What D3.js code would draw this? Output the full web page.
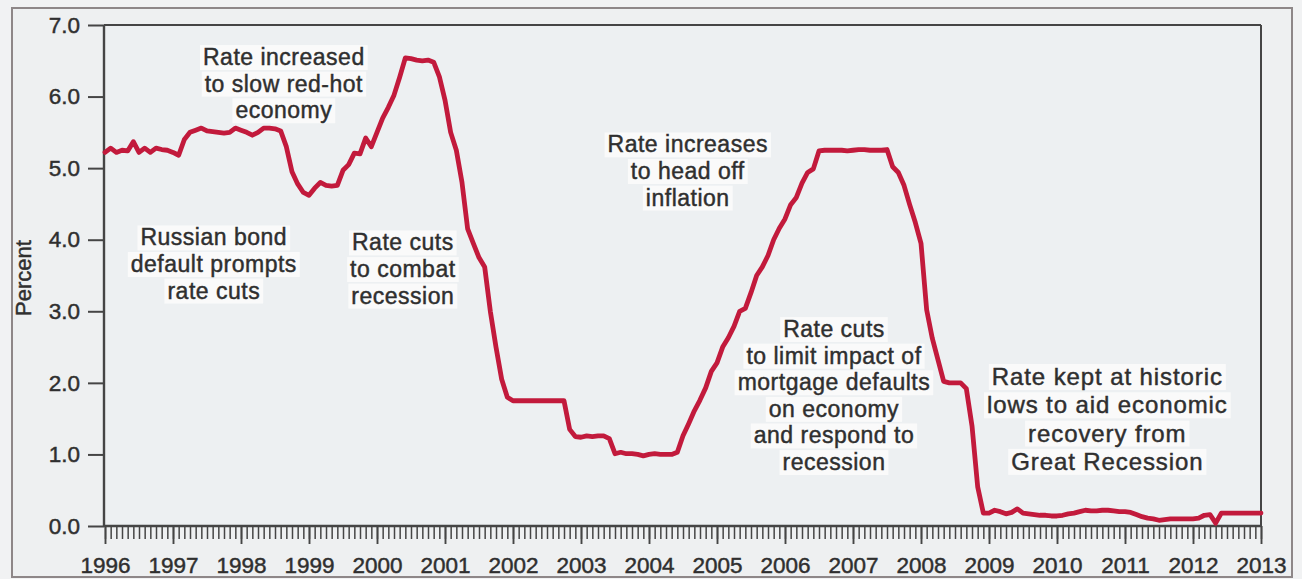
<!DOCTYPE html>
<html>
<head>
<meta charset="utf-8">
<script src="https://cdn.jsdelivr.net/npm/d3@7"></script>
<style>
  html, body { margin: 0; padding: 0; background: #f1f2f3; }
  svg { display: block; font-family: "Liberation Sans", Arial, sans-serif; }
  .ink { fill: #2f2f2f; stroke: #2f2f2f; stroke-width: 0.45px; }
</style>
</head>
<body>
<svg id="chart" width="1302" height="579"></svg>
<script>
// Federal funds rate, monthly averages (percent), one array per year.
const r1996 = [5.22, 5.28, 5.22, 5.25, 5.24, 5.37, 5.22, 5.28, 5.22, 5.28, 5.26, 5.25];
const r1997 = [5.22, 5.18, 5.40, 5.50, 5.53, 5.56, 5.52, 5.51, 5.50, 5.49, 5.50, 5.56];
const r1998 = [5.53, 5.50, 5.46, 5.50, 5.56, 5.56, 5.55, 5.52, 5.30, 4.95, 4.78, 4.66];
const r1999 = [4.62, 4.72, 4.80, 4.76, 4.75, 4.76, 4.97, 5.05, 5.21, 5.20, 5.42, 5.30];
const r2000 = [5.50, 5.70, 5.85, 6.02, 6.27, 6.54, 6.53, 6.51, 6.50, 6.51, 6.48, 6.28];
const r2001 = [5.95, 5.50, 5.25, 4.80, 4.15, 3.95, 3.75, 3.62, 3.00, 2.50, 2.05, 1.80];
const r2002 = [1.75, 1.75, 1.75, 1.75, 1.75, 1.75, 1.75, 1.75, 1.75, 1.75, 1.35, 1.25];
const r2003 = [1.24, 1.26, 1.25, 1.26, 1.26, 1.22, 1.01, 1.03, 1.01, 1.01, 1.00, 0.98];
const r2004 = [1.00, 1.01, 1.00, 1.00, 1.00, 1.03, 1.26, 1.43, 1.61, 1.76, 1.93, 2.16];
const r2005 = [2.28, 2.50, 2.63, 2.79, 3.00, 3.04, 3.26, 3.50, 3.62, 3.78, 4.00, 4.16];
const r2006 = [4.29, 4.49, 4.59, 4.79, 4.94, 4.99, 5.24, 5.25, 5.25, 5.25, 5.25, 5.24];
const r2007 = [5.25, 5.26, 5.26, 5.25, 5.25, 5.25, 5.26, 5.02, 4.94, 4.76, 4.49, 4.24];
const r2008 = [3.95, 3.02, 2.62, 2.32, 2.02, 2.00, 2.00, 2.00, 1.92, 1.40, 0.55, 0.18];
const r2009 = [0.18, 0.22, 0.20, 0.17, 0.19, 0.24, 0.18, 0.17, 0.16, 0.15, 0.15, 0.14];
const r2010 = [0.14, 0.15, 0.17, 0.18, 0.20, 0.22, 0.21, 0.21, 0.22, 0.22, 0.21, 0.20];
const r2011 = [0.20, 0.19, 0.16, 0.13, 0.11, 0.10, 0.08, 0.09, 0.10, 0.10, 0.10, 0.10];
const r2012 = [0.10, 0.11, 0.15, 0.16, 0.04, 0.18, 0.18, 0.18, 0.18, 0.18, 0.18, 0.18];
const r2013 = [0.18];

const yearlyRates = [r1996, r1997, r1998, r1999, r2000, r2001, r2002, r2003, r2004,
                     r2005, r2006, r2007, r2008, r2009, r2010, r2011, r2012, r2013];
const startYear = 1996;

// Axis ticks and labels
const yearTicks = d3.range(1996, 2014);
const percentTicks = [0, 1, 2, 3, 4, 5, 6, 7];
const yLabel = "Percent";

// Annotation text, with anchor (year, percent) of the first line's baseline
const notes = [
  { lines: ["Rate increased", "to slow red-hot", "economy"], at: [1998.63, 6.44] },
  { lines: ["Russian bond", "default prompts", "rate cuts"], at: [1997.60, 3.92] },
  { lines: ["Rate cuts", "to combat", "recession"], at: [2000.38, 3.85] },
  { lines: ["Rate increases", "to head off", "inflation"], at: [2004.57, 5.22] },
  { lines: ["Rate cuts", "to limit impact of", "mortgage defaults", "on economy",
            "and respond to", "recession"], at: [2006.72, 2.64] },
  { lines: ["Rate kept at historic", "lows to aid economic", "recovery from",
            "Great Recession"], at: [2010.74, 1.97] }
];

// Flatten to {t, v} points with month m placed at year + m/12
const series = [];
yearlyRates.forEach((arr, i) => {
  arr.forEach((v, m) => series.push({ t: startYear + i + m / 12, v }));
});

const svg = d3.select("#chart");
const plot = { left: 104, right: 1261, top: 25, bottom: 526 };

const x = d3.scaleLinear().domain([1996, 2013]).range([105, 1261]);
const y = d3.scaleLinear().domain([0, 7]).range([plot.bottom, plot.top]);

// Outer panel frame
svg.append("rect")
  .attr("x", 12).attr("y", 8).attr("width", 1280).attr("height", 569)
  .attr("fill", "#eef0f1").attr("stroke", "#8e8788").attr("stroke-width", 2);

// Plot area
svg.append("rect")
  .attr("x", plot.left).attr("y", plot.top)
  .attr("width", plot.right - plot.left).attr("height", plot.bottom - plot.top)
  .attr("fill", "#edf0f2");

const axisColor = "#454545";

// Minor (monthly) ticks on the time axis
const monthTicks = d3.range(0, 17 * 12 + 1).map(k => 1996 + k / 12);
svg.append("g")
  .attr("transform", `translate(0,${plot.bottom})`)
  .call(d3.axisBottom(x).tickValues(monthTicks).tickSize(13).tickSizeOuter(0).tickFormat(""))
  .call(g => g.select(".domain").remove())
  .call(g => g.selectAll(".tick line").attr("stroke", axisColor).attr("stroke-width", 1.5));

// Year ticks and labels
svg.append("g")
  .attr("transform", `translate(0,${plot.bottom})`)
  .call(d3.axisBottom(x).tickValues(yearTicks).tickSize(18).tickSizeOuter(0).tickFormat(d3.format("d")))
  .call(g => g.select(".domain").remove())
  .call(g => g.selectAll(".tick line").attr("stroke", axisColor).attr("stroke-width", 1.9))
  .call(g => g.selectAll(".tick text")
    .attr("y", 47).attr("dy", 0)
    .attr("class", "ink").attr("font-size", 22.5));

// Percent axis
svg.append("g")
  .attr("transform", `translate(${plot.left},0)`)
  .call(d3.axisLeft(y).tickValues(percentTicks).tickSize(16).tickPadding(8)
    .tickSizeOuter(0).tickFormat(d3.format(".1f")))
  .call(g => g.select(".domain").remove())
  .call(g => g.selectAll(".tick line").attr("stroke", axisColor).attr("stroke-width", 2))
  .call(g => g.selectAll(".tick text").attr("class", "ink").attr("font-size", 22.5));

// Plot border lines: left axis, bottom axis, top and right edges
const border = svg.append("g").attr("stroke", axisColor).attr("fill", "none");
border.append("line").attr("x1", plot.left).attr("x2", plot.left)
  .attr("y1", plot.top).attr("y2", plot.bottom).attr("stroke-width", 2.4);
border.append("line").attr("x1", plot.left).attr("x2", plot.right)
  .attr("y1", plot.bottom).attr("y2", plot.bottom).attr("stroke-width", 2.4);
border.append("line").attr("x1", plot.left).attr("x2", plot.right)
  .attr("y1", plot.top).attr("y2", plot.top).attr("stroke-width", 2);
border.append("line").attr("x1", plot.right).attr("x2", plot.right)
  .attr("y1", plot.top).attr("y2", plot.bottom).attr("stroke-width", 2);

// Axis title
svg.append("text")
  .attr("transform", `translate(31,278) rotate(-90)`)
  .attr("text-anchor", "middle")
  .attr("class", "ink").attr("font-size", 22)
  .text(yLabel);

// Annotations (white boxes behind each line)
const noteG = svg.append("g");
notes.forEach((n, i) => {
  const big = i === 5;
  const size = big ? 24 : 23;
  const lh = big ? 28.3 : 26.6;
  const ls = big ? 0.9 : 0.5;
  const g = noteG.append("g");
  n.lines.forEach((line, j) => {
    const t = g.append("text")
      .attr("x", x(n.at[0])).attr("y", y(n.at[1]) + j * lh)
      .attr("text-anchor", "middle")
      .attr("font-size", size)
      .attr("letter-spacing", ls)
      .attr("class", "ink")
      .text(line);
    const b = t.node().getBBox();
    g.insert("rect", "text")
      .attr("x", b.x - 3).attr("y", b.y + 1)
      .attr("width", b.width + 6).attr("height", b.height - 1)
      .attr("fill", "#fbfbfb").attr("opacity", 0.9);
  });
});

// Rate line
const line = d3.line().x(d => x(d.t)).y(d => y(d.v)).curve(d3.curveLinear);
svg.append("path")
  .datum(series)
  .attr("d", line)
  .attr("fill", "none")
  .attr("stroke", "#c21a3c")
  .attr("stroke-width", 4.8)
  .attr("stroke-linejoin", "round")
  .attr("stroke-linecap", "round");
</script>
</body>
</html>
